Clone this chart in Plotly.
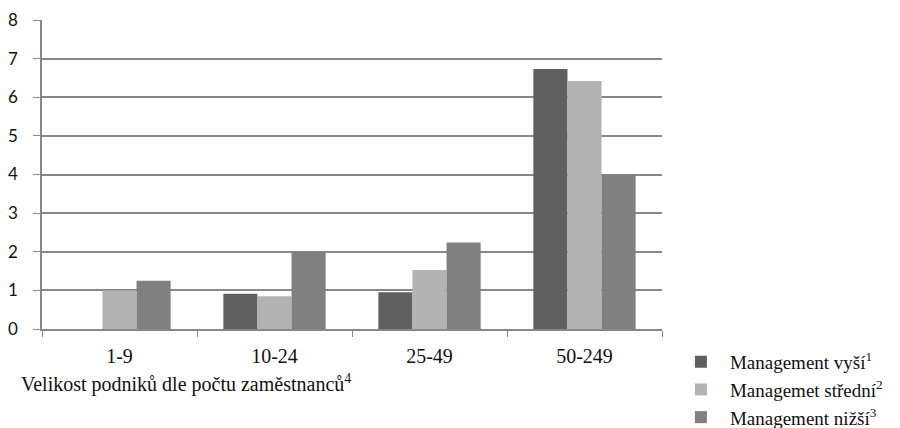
import plotly.graph_objects as go

categories = ["1-9", "10-24", "25-49", "50-249"]
series_names = ["Management vyší<sup>1</sup>", "Managemet střední<sup>2</sup>", "Management nižší<sup>3</sup>"]
vyssi = [0, 0.91, 0.95, 6.73]
stredni = [1.0, 0.85, 1.53, 6.42]
nizsi = [1.25, 2.0, 2.24, 4.0]
colors = ["#606060", "#b3b3b3", "#808080"]

fig = go.Figure()
for name, vals, col in zip(series_names, [vyssi, stredni, nizsi], colors):
    fig.add_trace(go.Bar(x=categories, y=vals, name=name,
                         marker=dict(color=col, line=dict(width=0))))

serif = "Times New Roman"
sans = "Lato"

fig.update_layout(
    width=892, height=420,
    margin=dict(l=34, r=238, t=12, b=99, autoexpand=False),
    paper_bgcolor="white", plot_bgcolor="white",
    barmode="group", bargap=0.34, bargroupgap=0,
    showlegend=True,
    legend=dict(x=1.016, y=-0.045, xanchor="left", yanchor="top",
                font=dict(family=serif, size=19, color="#111"),
                tracegroupgap=0, itemwidth=48, bgcolor="rgba(0,0,0,0)"),
    xaxis=dict(showline=True, linecolor="#888", linewidth=1.5,
               ticks="outside", ticklen=6, tickcolor="#888",
               tickson="boundaries", ticklabelstandoff=8,
               tickfont=dict(family=serif, size=20, color="#111"),
               showgrid=False),
    yaxis=dict(range=[0, 8], dtick=1, showline=True, linecolor="#888", linewidth=1.5,
               ticks="outside", ticklen=7, tickcolor="#888", ticklabelstandoff=12,
               showgrid=True, gridcolor="#888", gridwidth=1.5,
               tickfont=dict(family=sans, size=17, color="#111"),
               zeroline=False),
    annotations=[dict(text="Velikost podniků dle počtu zaměstnanců<sup>4</sup>",
                      xref="paper", yref="paper", x=-0.037, y=-0.128,
                      xanchor="left", yanchor="top", showarrow=False,
                      font=dict(family=serif, size=20, color="#111"))],
)

fig.write_html("out.html")
